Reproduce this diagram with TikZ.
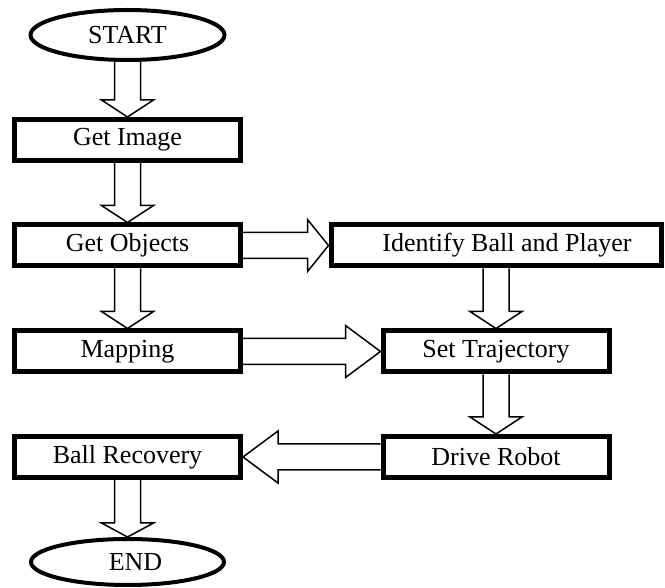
\documentclass[tikz,border=0pt]{standalone}
\usepackage{fontspec}
\setmainfont{Liberation Serif}
\usepackage{tikz}
\usetikzlibrary{shapes.geometric,calc}

% hollow block arrow: from, to, head length
\newcommand{\blockarrow}[3]{%
  \coordinate (ba) at ($(#2)!#3!(#1)$);
  \draw[arrowline] ($(#1)!6.5pt!90:(#2)$) -- ($(ba)!6.5pt!90:(#2)$)
    -- ($(ba)!13pt!90:(#2)$) -- (#2) -- ($(ba)!13pt!-90:(#2)$)
    -- ($(ba)!6.5pt!-90:(#2)$) -- ($(#1)!6.5pt!-90:(#2)$);
}

\begin{document}
\begin{tikzpicture}[x=0.5pt,y=-0.5pt,
  flowbox/.style={draw,line width=2.5pt,minimum width=113pt,minimum height=20.5pt,inner sep=0pt,font=\fontsize{13}{15}\selectfont},
  terminal/.style={draw,ellipse,line width=2pt,inner sep=0pt,font=\fontsize{13}{15}\selectfont},
  arrowline/.style={draw,line width=0.75pt,line join=miter}]
\path[use as bounding box] (0,0) rectangle (665,588);
% left column
\node[terminal,minimum width=97pt,minimum height=25pt] (start) at (127.5,35) {START};
\node[flowbox] (getimg) at (127.5,140) {Get Image};
\node[flowbox] (getobj) at (127.5,245.5) {Get Objects};
\node[flowbox] (mapping) at (127.5,351.5) {Mapping};
\node[flowbox] (ballrec) at (127.5,457) {Ball Recovery};
\node[terminal,minimum width=96.5pt,minimum height=23pt] (finish) at (127.5,562) {\hspace*{8pt}END};
% right column
\node[flowbox,minimum width=165pt] (identify) at (496,245.5) {\hspace*{11pt}Identify Ball and Player};
\node[flowbox] (settraj) at (496,351.5) {Set Trajectory};
\node[flowbox] (drive) at (496,457) {Drive Robot};
% arrows
\blockarrow{start.south}{getimg.north}{8.5pt}
\blockarrow{getimg.south}{getobj.north}{8.5pt}
\blockarrow{getobj.south}{mapping.north}{8.5pt}
\blockarrow{getobj.east}{identify.west}{10.5pt}
\blockarrow{mapping.east}{settraj.west}{17.5pt}
\blockarrow{identify.south}{settraj.north}{8.5pt}
\blockarrow{settraj.south}{drive.north}{8.5pt}
\blockarrow{drive.west}{ballrec.east}{17.5pt}
\blockarrow{ballrec.south}{finish.north}{7pt}
\end{tikzpicture}
\end{document}
